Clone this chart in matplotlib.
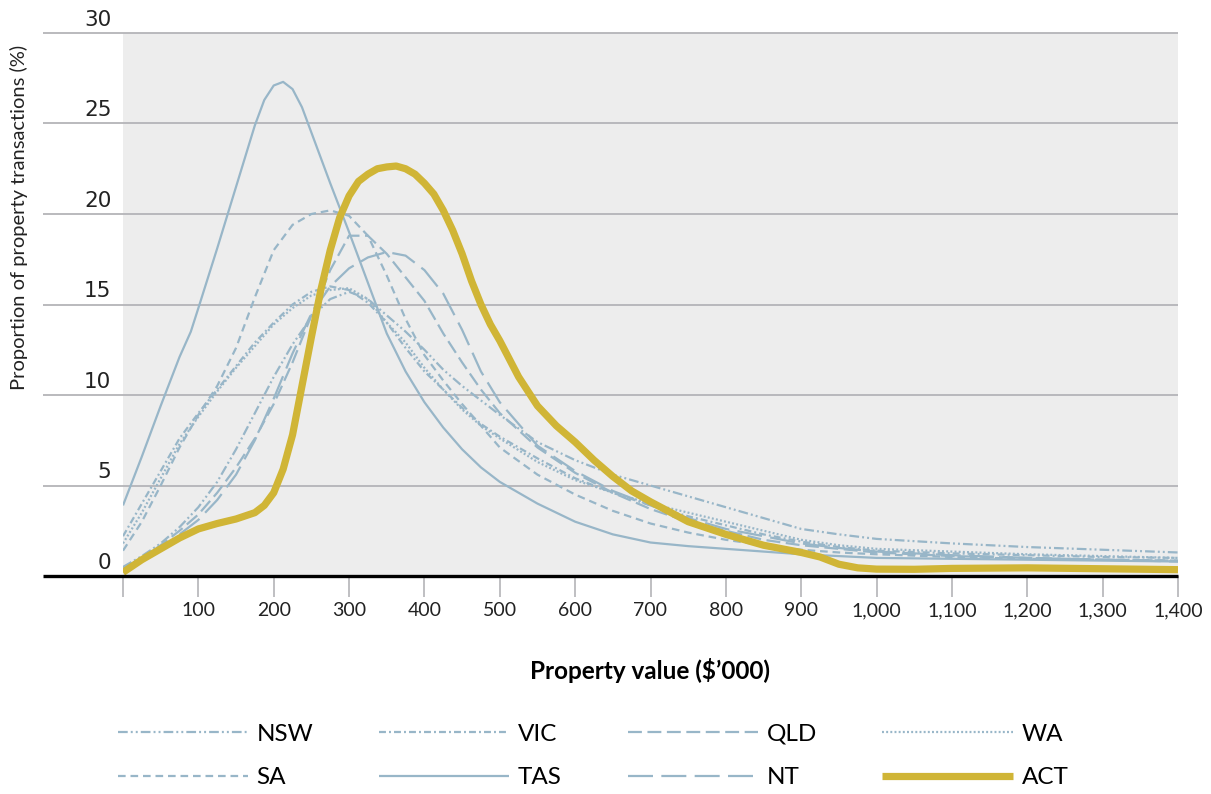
import matplotlib
matplotlib.use("Agg")
import matplotlib.pyplot as plt

plt.rcParams['font.family'] = ['Lato', 'DejaVu Sans']
plt.rcParams['lines.scale_dashes'] = False

# ---- data ----
# common x grid for the state series
x_vals = [0, 25, 50, 75, 100, 125, 150, 175, 200, 225, 250, 275, 300, 325, 350,
          375, 400, 425, 450, 475, 500, 550, 600, 650, 700, 750, 800, 850, 900,
          950, 1000, 1100, 1200, 1300, 1400]

nsw = [0.5, 1.1, 1.8, 2.7, 3.8, 5.2, 7.0, 9.0, 11.0, 12.8, 14.3, 15.3, 15.7, 15.3, 14.4,
       13.5, 12.5, 11.4, 10.5, 9.7, 8.9, 7.4, 6.4, 5.6, 5.0, 4.4, 3.8, 3.2, 2.6,
       2.3, 2.05, 1.8, 1.6, 1.45, 1.3]
vic = [2.2, 4.0, 5.8, 7.6, 9.0, 10.3, 11.6, 12.9, 14.0, 15.0, 15.7, 16.0, 15.8, 15.1, 14.0,
       12.6, 11.3, 10.3, 9.3, 8.4, 7.7, 6.5, 5.4, 4.6, 3.9, 3.3, 2.8, 2.3, 1.9,
       1.6, 1.4, 1.25, 1.15, 1.05, 1.0]
qld = [0.4, 1.0, 1.7, 2.5, 3.4, 4.6, 6.0, 7.6, 9.5, 11.8, 14.4, 16.9, 18.8, 18.8, 17.8,
       16.5, 15.2, 13.4, 11.8, 10.3, 9.0, 7.1, 5.7, 4.6, 3.7, 3.0, 2.5, 2.0, 1.7,
       1.5, 1.3, 1.1, 1.0, 0.9, 0.85]
wa = [1.8, 3.5, 5.4, 7.3, 8.8, 10.2, 11.5, 12.7, 13.9, 14.8, 15.5, 15.8, 15.9, 15.3, 14.0,
      12.9, 11.5, 10.3, 9.2, 8.3, 7.6, 6.3, 5.3, 4.6, 4.0, 3.5, 3.0, 2.5, 2.0,
      1.7, 1.5, 1.35, 1.2, 1.1, 1.0]
sa = [1.4, 3.0, 5.0, 7.1, 8.9, 10.5, 12.6, 15.4, 18.0, 19.4, 20.0, 20.2, 19.9, 18.8, 16.6,
      14.2, 12.2, 10.8, 9.5, 8.3, 7.1, 5.6, 4.5, 3.6, 2.9, 2.4, 2.0, 1.7, 1.45,
      1.3, 1.2, 1.05, 0.95, 0.9, 0.85]
nt = [0.4, 0.9, 1.5, 2.3, 3.1, 4.2, 5.6, 7.5, 9.8, 12.3, 14.5, 16.0, 17.0, 17.6, 17.9,
      17.7, 16.9, 15.6, 13.6, 11.3, 9.6, 7.2, 5.8, 4.7, 3.9, 3.2, 2.6, 2.2, 1.8,
      1.55, 1.35, 1.15, 1.0, 0.9, 0.8]

# TAS read on a finer grid around its sharp peak
tas_x = [0, 25, 50, 75, 90, 100, 125, 150, 175, 187.5, 200, 212.5, 225, 237.5, 250, 275,
         300, 325, 350, 375, 400, 425, 450, 475, 500, 550, 600, 650, 700, 750, 800,
         850, 900, 950, 1000, 1100, 1200, 1300, 1400]
tas = [3.9, 6.6, 9.4, 12.1, 13.5, 14.8, 18.1, 21.5, 24.9, 26.3, 27.1, 27.3, 26.9, 25.9, 24.5, 21.7,
       19.0, 16.2, 13.4, 11.3, 9.6, 8.2, 7.0, 6.0, 5.2, 4.0, 3.0, 2.3, 1.85, 1.65, 1.5,
       1.35, 1.2, 1.1, 1.0, 0.95, 0.9, 0.85, 0.8]

# ACT read on a finer grid around its steep rise, peak and fall
act_x = [0, 25, 50, 75, 100, 125, 150, 175, 187.5, 200, 212.5, 225, 237.5, 250, 262.5, 275,
         287.5, 300, 312.5, 325, 337.5, 350, 362.5, 375, 387.5, 400, 412.5, 425, 437.5,
         450, 462.5, 475, 487.5, 500, 525, 550, 575, 600, 625, 650, 675, 700, 750, 800,
         850, 900, 925, 950, 975, 1000, 1050, 1100, 1200, 1300, 1400]
act = [0.2, 0.9, 1.5, 2.1, 2.6, 2.9, 3.15, 3.5, 3.9, 4.6, 5.9, 7.8, 10.5, 13.2, 15.8, 18.0,
       19.8, 21.0, 21.8, 22.2, 22.5, 22.6, 22.65, 22.5, 22.2, 21.7, 21.1, 20.2, 19.1,
       17.8, 16.3, 15.0, 13.9, 13.0, 11.0, 9.4, 8.3, 7.4, 6.4, 5.5, 4.7, 4.1, 3.0, 2.3,
       1.7, 1.3, 1.05, 0.65, 0.45, 0.38, 0.37, 0.42, 0.45, 0.4, 0.35]

series_names = ['NSW', 'VIC', 'QLD', 'WA', 'SA', 'TAS', 'NT', 'ACT']
series_x = [x_vals, x_vals, x_vals, x_vals, x_vals, tas_x, x_vals, act_x]
series_vals = [nsw, vic, qld, wa, sa, tas, nt, act]

x_ticks = [0, 100, 200, 300, 400, 500, 600, 700, 800, 900, 1000, 1100, 1200, 1300, 1400]
x_ticklabels = ['', '100', '200', '300', '400', '500', '600', '700', '800', '900',
                '1,000', '1,100', '1,200', '1,300', '1,400']
y_ticks = [0, 5, 10, 15, 20, 25, 30]

# ---- styles ----
blue = '#98B6C8'
gold = '#D0B536'
styles = {
    'NSW': dict(color=blue, lw=1.6, dashes=[7, 2.2, 1.4, 2.2, 1.4, 2.2]),
    'VIC': dict(color=blue, lw=1.6, dashes=[5, 2.2, 1.4, 2.2]),
    'QLD': dict(color=blue, lw=1.6, dashes=[10, 4]),
    'WA': dict(color=blue, lw=1.6, dashes=[1.4, 1.6]),
    'SA': dict(color=blue, lw=1.6, dashes=[5.5, 3.5]),
    'TAS': dict(color=blue, lw=1.6),
    'NT': dict(color=blue, lw=1.6, dashes=[18, 6]),
    'ACT': dict(color=gold, lw=5.2),
}

fig = plt.figure(figsize=(12.11, 7.94), dpi=100)
W, H = 1211, 794
ax = fig.add_axes([123 / W, 1 - 576 / H, 1055 / W, (576 - 33) / H])
ax.set_facecolor('#EDEDED')
ax.set_xlim(0, 1400)
ax.set_ylim(0, 30)
for s in ax.spines.values():
    s.set_visible(False)

ext = (43 - 123) / 1055
ax.hlines(y_ticks[1:], ext, 1, transform=ax.get_yaxis_transform(),
          color='#B4B4B8', lw=1.3, clip_on=False, zorder=1)
ax.hlines([0], ext, 1, transform=ax.get_yaxis_transform(),
          color='black', lw=2.4, clip_on=False, zorder=5)

lines = {}
for name, xs, vals in zip(series_names, series_x, series_vals):
    ln, = ax.plot(xs, vals, label=name, solid_capstyle='butt', solid_joinstyle='round',
                  zorder=4 if name == 'ACT' else 3, **styles[name])
    lines[name] = ln

ax.set_yticks(y_ticks)
ax.set_yticklabels([])
ax.tick_params(axis='y', length=0)
for v in y_ticks:
    ax.annotate(str(v), xy=(-0.011, v), xycoords=ax.get_yaxis_transform(),
                xytext=(0, 2.5), textcoords='offset points', ha='right', va='bottom',
                fontsize=15.5, color='#222222', family=['DejaVu Sans'])

ax.set_xticks(x_ticks)
ax.set_xticklabels(x_ticklabels, fontsize=14, color='#222222')
ax.tick_params(axis='x', length=15, width=1.2, color='#B4B4B8', pad=4)

ax.set_xlabel('Property value ($\u2019000)', fontsize=17.5, fontweight='bold', labelpad=28)
ax.set_ylabel('Proportion of property transactions (%)', fontsize=14.5, color='#222222')
ax.yaxis.set_label_coords(-0.09, 0.661)

# legend laid out row by row (matplotlib fills columns first)
order = ['NSW', 'SA', 'VIC', 'TAS', 'QLD', 'NT', 'WA', 'ACT']
leg = fig.legend([lines[n] for n in order], order, loc='center',
                 bbox_to_anchor=(0.4897, 1 - 756 / H), ncol=4,
                 frameon=False, fontsize=17.5, handlelength=5.35, handletextpad=0.37,
                 columnspacing=2.7, labelspacing=0.92)

fig.savefig('out.png', dpi=100)
